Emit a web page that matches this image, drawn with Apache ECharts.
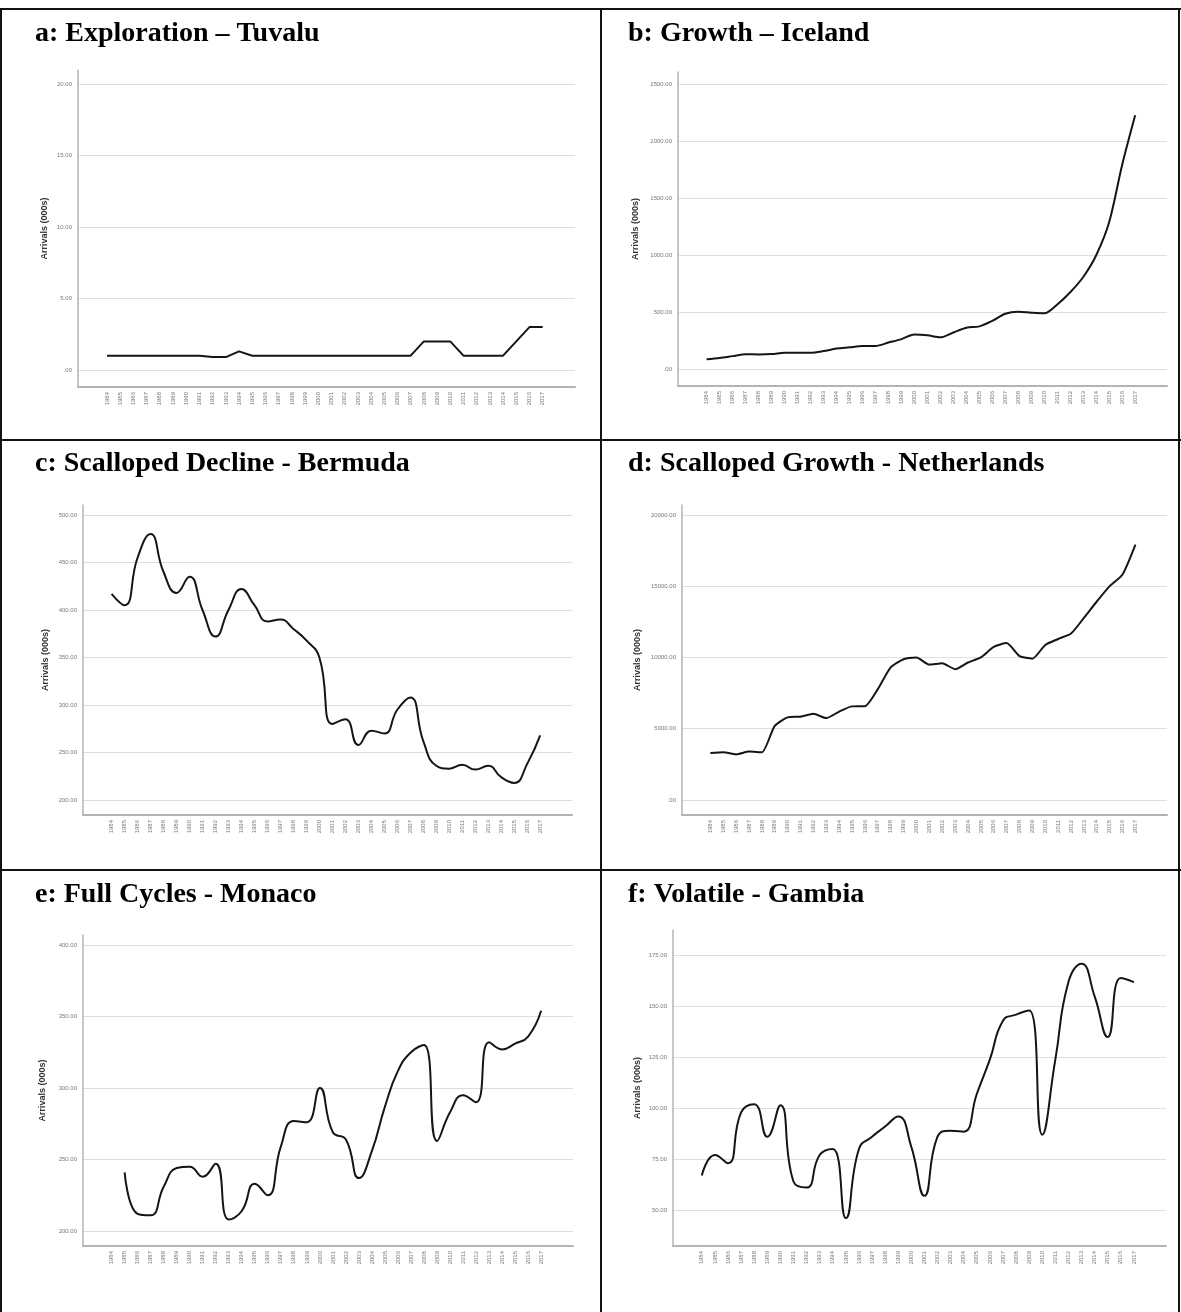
<!DOCTYPE html>
<html><head><meta charset="utf-8">
<script src="https://cdn.jsdelivr.net/npm/echarts@6/dist/echarts.min.js"></script>
<style>
html,body{margin:0;padding:0;background:#fff;}
#wrap{position:relative;width:1181px;height:1312px;overflow:hidden;}
#chart{position:absolute;left:0;top:0;width:1181px;height:1312px;}
.b{position:absolute;background:#111;}
</style></head><body>
<div id="wrap">
<div class="b" style="left:0;top:8px;width:1181px;height:2px"></div>
<div class="b" style="left:0;top:8px;width:2px;height:1304px"></div>
<div class="b" style="left:1178px;top:8px;width:2px;height:1304px"></div>
<div class="b" style="left:600px;top:8px;width:2px;height:1304px"></div>
<div class="b" style="left:0;top:439px;width:1181px;height:2px"></div>
<div class="b" style="left:0;top:869px;width:1181px;height:2px"></div>
<div id="chart"></div>
</div>
<script>
// x-axis tick labels (years)
const years = [1984,1985,1986,1987,1988,1989,1990,1991,1992,1993,1994,1995,1996,1997,1998,1999,2000,2001,2002,2003,2004,2005,2006,2007,2008,2009,2010,2011,2012,2013,2014,2015,2016,2017];

// panel titles
const titles = ["a: Exploration \u2013 Tuvalu","b: Growth \u2013 Iceland","c: Scalloped Decline - Bermuda","d: Scalloped Growth - Netherlands","e: Full Cycles - Monaco","f: Volatile - Gambia"];

// series values (arrivals, 000s)
const tuvalu = [1,1,1,1,1,1,1,1,0.9,0.9,1.3,1,1,1,1,1,1,1,1,1,1,1,1,1,2,2,2,1,1,1,1,2,3,3];
const iceland = [85,97,113,129,128,131,142,143,143,157,179,190,201,202,232,262,303,296,278,320,362,374,422,485,502,494,489,566,673,807,998,1289,1792,2225];
const bermuda = [417,405,455,480,440,418,435,400,372,400,422,405,388,390,380,368,350,280,285,258,273,270,295,308,262,236,233,237,232,236,224,218,238,268];
const netherlands = [3300,3350,3200,3400,3350,5200,5800,5850,6050,5750,6200,6570,6580,7780,9310,9880,10000,9500,9600,9180,9650,10010,10740,11010,10100,9920,10880,11300,11680,12780,13930,15010,15830,17920];
const monaco = [null,241,212,211,231,244,245,238,247,208,214,233,225,259,277,276,300,269,264,237,256,287,312,325,330,263,283,295,290,332,327,331,336,354];
const gambia = [67,77,73,98,102,86,101.5,64,61,77,80,46,80,86,91,96,81,57,86,89,88.5,107,124,143,146,148,87,124,162,171,155,135,164,162];

// y-axis tick values
const ticksA = [0,5,10,15,20];
const ticksB = [0,500,1000,1500,2000,2500];
const ticksC = [200,250,300,350,400,450,500];
const ticksD = [0,5000,10000,15000,20000];
const ticksE = [200,250,300,350,400];
const ticksF = [50,75,100,125,150,175];

const panels = [
  {vals:tuvalu, ticks:ticksA, min:-1.19, max:20.98, grid:{left:78,top:70,width:497,height:317}, gap:29, smooth:false, tl:30, tt:15},
  {vals:iceland, ticks:ticksB, min:-149, max:2605, grid:{left:678,top:72,width:489,height:314}, gap:38, smooth:0.3, tl:623, tt:15},
  {vals:bermuda, ticks:ticksC, min:184.2, max:510.5, grid:{left:83,top:505,width:489,height:310}, gap:33, smooth:0.5, tl:30, tt:445},
  {vals:netherlands, ticks:ticksD, min:-1053, max:20702, grid:{left:682,top:505,width:485,height:310}, gap:40, smooth:0.2, tl:623, tt:445},
  {vals:monaco, ticks:ticksE, min:189.5, max:407, grid:{left:83,top:935,width:490,height:311}, gap:36, smooth:0.5, tl:30, tt:876},
  {vals:gambia, ticks:ticksF, min:32.3, max:187.6, grid:{left:673,top:930,width:493,height:316}, gap:31, smooth:0.5, tl:623, tt:876}
];

const fmtY = v => v === 0 ? '.00' : Number(v).toFixed(2);

const option = {
  animation:false,
  title: panels.map((p,i)=>({text:titles[i], left:p.tl, top:p.tt,
    textStyle:{fontFamily:'Liberation Serif', fontWeight:'bold', fontSize:28, color:'#000'}})),
  grid: panels.map(p=>Object.assign({containLabel:false}, p.grid)),
  xAxis: panels.map((p,i)=>({
    type:'value', gridIndex:i, min:1981.8, max:2019.45,
    axisLine:{show:true, onZero:false, lineStyle:{color:'#b4b4b4', width:2}},
    axisTick:{show:false, customValues:years},
    axisLabel:{customValues:years, rotate:90, fontSize:6, color:'#777', margin:5, fontFamily:'Liberation Sans', formatter:v=>String(v)},
    splitLine:{show:false}
  })),
  yAxis: panels.map((p,i)=>({
    type:'value', gridIndex:i, min:p.min, max:p.max,
    name:'Arrivals (000s)', nameLocation:'middle', nameGap:p.gap, nameRotate:90,
    nameTextStyle:{fontFamily:'Liberation Sans', fontSize:9, fontWeight:'bold', color:'#333'},
    axisLine:{show:true, onZero:false, lineStyle:{color:'#b4b4b4', width:1.5}},
    axisTick:{show:false, customValues:p.ticks},
    axisLabel:{customValues:p.ticks, formatter:fmtY, fontSize:6, color:'#777', margin:6, fontFamily:'Liberation Sans'},
    splitLine:{show:true, lineStyle:{color:'#dedede', width:1.2}}
  })),
  series: panels.map((p,i)=>({
    type:'line', xAxisIndex:i, yAxisIndex:i, showSymbol:false, smooth:p.smooth,
    data: years.map((y,k)=>[y, p.vals[k]]),
    lineStyle:{color:'#151515', width:2}
  }))
};
const chart = echarts.init(document.getElementById('chart'), null, {renderer:'canvas'});
chart.setOption(option);
</script>
</body></html>
